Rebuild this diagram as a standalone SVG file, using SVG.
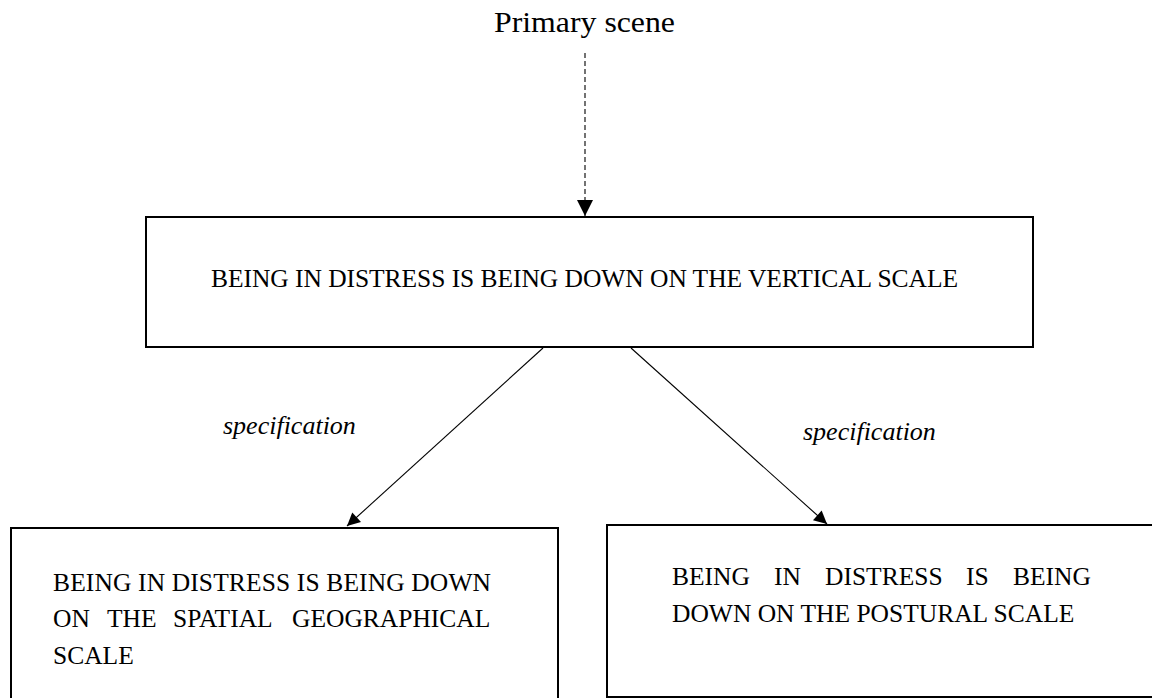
<svg xmlns="http://www.w3.org/2000/svg" width="1152" height="698" viewBox="0 0 1152 698">
<style>
.box{fill:#fff;stroke:#000;stroke-width:2}
.t{font-family:"Liberation Serif","Times New Roman",serif;font-size:25.5px;fill:#000}
.lbl{font-family:"Liberation Serif","Times New Roman",serif;font-size:26px;font-style:italic;fill:#000}
.conn{stroke:#000;stroke-width:1.1;fill:none}
</style>
<defs>
<marker id="ah" viewBox="0 0 10 10" refX="10" refY="5" markerWidth="18" markerHeight="13" markerUnits="userSpaceOnUse" orient="auto">
<path d="M0,0 L10,5 L0,10 z" fill="#000"/>
</marker>
<marker id="ahd" viewBox="0 0 10 10" refX="10" refY="5" markerWidth="17" markerHeight="16" markerUnits="userSpaceOnUse" orient="auto">
<path d="M0,0 L10,5 L0,10 z" fill="#000"/>
</marker>
</defs>
<rect width="1152" height="698" fill="#fff"/>
<g id="primary-scene">
<text class="t" x="494" y="32" style="font-size:29px" textLength="181" lengthAdjust="spacingAndGlyphs">Primary scene</text>
</g>
<g id="vertical">
<rect class="box" x="146" y="217" width="887" height="130"/>
<text class="t" x="211" y="287" textLength="747" lengthAdjust="spacing">BEING IN DISTRESS IS BEING DOWN ON THE VERTICAL SCALE</text>
</g>
<g id="spatial">
<rect class="box" x="11" y="528" width="547" height="200"/>
<text class="t" x="53" y="591" textLength="438" lengthAdjust="spacing">BEING IN DISTRESS IS BEING DOWN</text>
<text class="t" y="627"><tspan x="53">ON</tspan><tspan x="107">THE</tspan><tspan x="173">SPATIAL</tspan><tspan x="292">GEOGRAPHICAL</tspan></text>
<text class="t" x="53" y="664">SCALE</text>
</g>
<g id="postural">
<rect class="box" x="607" y="525" width="600" height="172"/>
<text class="t" y="585"><tspan x="672">BEING</tspan><tspan x="774">IN</tspan><tspan x="825">DISTRESS</tspan><tspan x="966">IS</tspan><tspan x="1013">BEING</tspan></text>
<text class="t" x="672" y="622">DOWN ON THE POSTURAL SCALE</text>
</g>
<g id="connectors">
<line class="conn" x1="585" y1="53" x2="585" y2="216" stroke-dasharray="5,3" stroke-width="1.3" marker-end="url(#ahd)"/>
<line class="conn" x1="543" y1="348" x2="347" y2="526" marker-end="url(#ah)"/>
<line class="conn" x1="631" y1="348" x2="827" y2="524" marker-end="url(#ah)"/>
<text class="lbl" x="223" y="434">specification</text>
<text class="lbl" x="803" y="440">specification</text>
</g>
</svg>
